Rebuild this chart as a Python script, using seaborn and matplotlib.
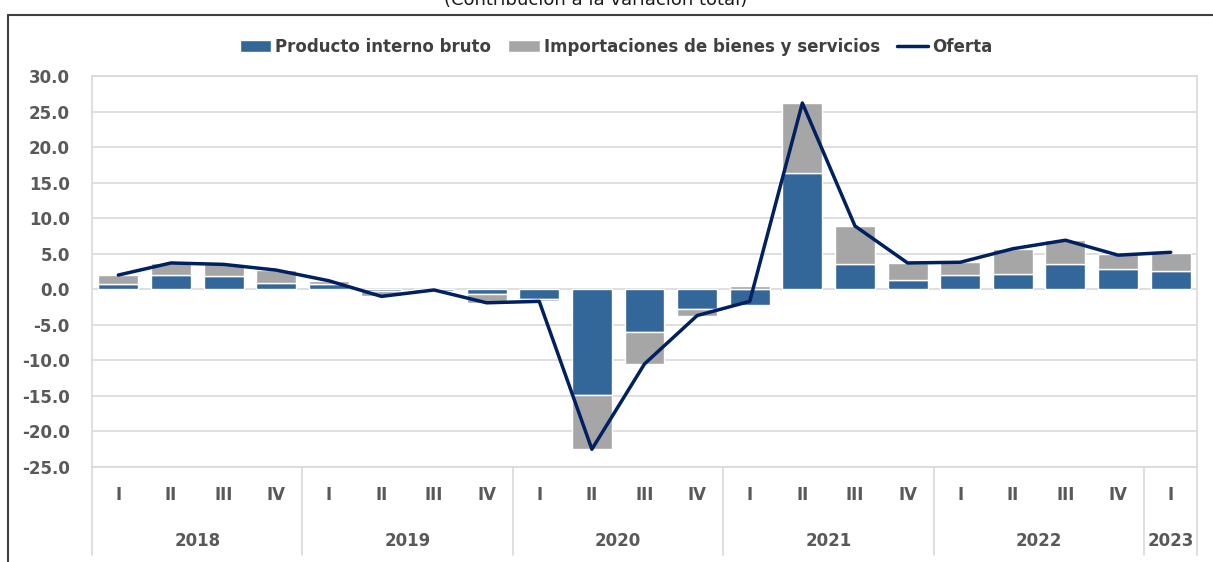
import numpy as np
import pandas as pd
import seaborn as sns
import matplotlib.pyplot as plt
from matplotlib.patches import Patch
from matplotlib.lines import Line2D

years = ["2018", "2019", "2020", "2021", "2022", "2023"]
quarters = ["I", "II", "III", "IV"] * 5 + ["I"]
periods = [y + "-" + q for y in years[:5] for q in ["I", "II", "III", "IV"]] + ["2023-I"]

pib = [0.7, 2.0, 1.9, 0.9, 0.7, -0.2, -0.2, -0.7, -1.3, -14.9, -6.0, -2.8,
       -2.2, 16.3, 3.5, 1.3, 2.0, 2.2, 3.5, 2.9, 2.6]
importaciones = [1.3, 1.7, 1.6, 1.8, 0.5, -0.8, 0.1, -1.2, -0.4, -7.6, -4.5, -0.9,
                 0.5, 9.9, 5.4, 2.4, 1.8, 3.5, 3.4, 2.0, 2.5]
oferta = [2.0, 3.7, 3.5, 2.7, 1.2, -1.0, -0.1, -1.9, -1.7, -22.5, -10.5, -3.7,
          -1.7, 26.2, 8.9, 3.7, 3.8, 5.7, 6.9, 4.8, 5.2]

azul = "#336699"
gris = "#A6A6A6"
navy = "#002060"
texto = "#595959"

sns.set_style("white")
plt.rcParams["font.family"] = ["DejaVu Sans"]

df = pd.DataFrame({"periodo": periods, "pib": pib, "imp": importaciones, "oferta": oferta})

fig = plt.figure(figsize=(12.13, 5.62), dpi=100)
ax = fig.add_axes([92 / 1213, 1 - 467 / 562, (1197 - 92) / 1213, (467 - 76) / 562])

# stacked bars like excel: positives go up, negatives go down
pib_arr = np.array(pib)
imp_arr = np.array(importaciones)
bottom = np.where(imp_arr >= 0, np.maximum(pib_arr, 0), np.minimum(pib_arr, 0))

sns.barplot(data=df, x="periodo", y="pib", color=azul, saturation=1,
            width=0.76, ax=ax, zorder=2)
ax.bar(np.arange(len(periods)), imp_arr, bottom=bottom, width=0.76,
       color=gris, zorder=2)
sns.lineplot(x=np.arange(len(periods)), y=df["oferta"], color=navy,
             linewidth=2.5, ax=ax, zorder=3)

ax.set_xlim(-0.5, len(periods) - 0.5)
ax.set_ylim(-25, 30)
ax.set_yticks(np.arange(-25, 31, 5))
ax.set_yticklabels([f"{v:.1f}" for v in np.arange(-25, 31, 5)],
                   fontsize=12, fontweight="bold", color=texto)
ax.yaxis.grid(True, color="#D9D9D9", linewidth=1.2, zorder=0)
ax.set_axisbelow(True)
ax.tick_params(axis="y", length=0, pad=16)
ax.set_xlabel("")
ax.set_ylabel("")

for s in ax.spines.values():
    s.set_color("#D9D9D9")
    s.set_linewidth(1.2)

# two level category axis
ax.set_xticks(np.arange(len(periods)))
ax.set_xticklabels(quarters, fontsize=12, fontweight="bold", color=texto)
ax.tick_params(axis="x", length=0, pad=14)

trans = ax.get_xaxis_transform()
bounds = [-0.5, 3.5, 7.5, 11.5, 15.5, 19.5, 20.5]
for b in bounds:
    ax.plot([b, b], [0, -0.225], transform=trans, color="#D9D9D9",
            linewidth=1.2, clip_on=False)
for i, y in enumerate(years):
    mid = (bounds[i] + bounds[i + 1]) / 2
    ax.text(mid, -0.19, y, transform=trans, ha="center", va="center",
            fontsize=12, fontweight="bold", color=texto)

# legend
handles = [Patch(facecolor=azul), Patch(facecolor=gris),
           Line2D([0], [0], color=navy, linewidth=2.5)]
labels = ["Producto interno bruto", "Importaciones de bienes y servicios", "Oferta"]
leg = fig.legend(handles, labels, loc="center", bbox_to_anchor=(0.508, 1 - 47 / 562),
                 ncol=3, frameon=False, handlelength=1.9, handletextpad=0.25,
                 columnspacing=1.0, prop={"size": 12, "weight": "bold"})
for t in leg.get_texts():
    t.set_color("#404040")

# outer frame and title (cut at the top edge, as in the source)
fig.add_artist(Line2D([8 / 1213, 8 / 1213], [0, 1 - 15 / 562], color="#404040", linewidth=1.5))
fig.add_artist(Line2D([8 / 1213, 1], [1 - 15 / 562, 1 - 15 / 562], color="#404040", linewidth=1.5))
fig.text(0.491, 1 - 5 / 562, "(Contribución a la variación total)", ha="center",
         va="baseline", fontsize=13, color="#1a1a1a")

plt.savefig("out.png", dpi=100)
plt.close()
